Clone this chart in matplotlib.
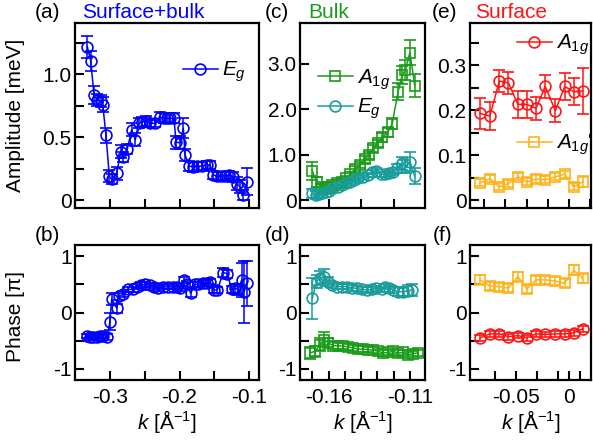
import matplotlib.pyplot as plt
import matplotlib.ticker as ticker

plt.rcParams['font.family'] = ['Liberation Sans', 'DejaVu Sans']
plt.rcParams['mathtext.fontset'] = 'custom'
plt.rcParams['mathtext.rm'] = 'Liberation Sans'
plt.rcParams['mathtext.it'] = 'Liberation Sans:italic'
plt.rcParams['axes.unicode_minus'] = False
plt.rcParams['font.size'] = 15

BLUE = '#0000ff'
GREEN = '#1a9c1a'
TEAL = '#1a9c9c'
RED = '#ff1414'
ORANGE = '#ffb31a'

# ---- (a) surface+bulk amplitude, E_g ----
a_k = [-0.3327, -0.3278, -0.3230, -0.3183, -0.3130, -0.3105, -0.3058, -0.3010, -0.2976,
       -0.2904, -0.2846, -0.2810, -0.2750, -0.2688, -0.2636, -0.2590, -0.2544, -0.2480,
       -0.2424, -0.2353, -0.2280, -0.2220, -0.2184, -0.2137, -0.2079, -0.2050, -0.1993,
       -0.1945, -0.1920, -0.1860, -0.1800, -0.1744, -0.1680, -0.1610, -0.1560, -0.1514,
       -0.1465, -0.1407, -0.1345, -0.1283, -0.1225, -0.1177, -0.1130, -0.1082, -0.1024]
a_amp = [1.22, 1.11, 0.835, 0.795, 0.79, 0.76, 0.517, 0.19, 0.164,
         0.212, 0.385, 0.34, 0.41, 0.56, 0.48, 0.61, 0.62, 0.63,
         0.61, 0.61, 0.66, 0.65, 0.65, 0.65, 0.65, 0.46, 0.456,
         0.57, 0.36, 0.27, 0.265, 0.27, 0.27, 0.28, 0.28, 0.20,
         0.19, 0.19, 0.19, 0.20, 0.185, 0.13, 0.106, 0.04, 0.146]
a_err = [0.085, 0.08, 0.07, 0.05, 0.05, 0.06, 0.06, 0.05, 0.04,
         0.05, 0.05, 0.04, 0.04, 0.05, 0.05, 0.04, 0.04, 0.04,
         0.03, 0.03, 0.04, 0.04, 0.04, 0.04, 0.04, 0.05, 0.05,
         0.08, 0.05, 0.04, 0.04, 0.03, 0.03, 0.03, 0.03, 0.03,
         0.03, 0.03, 0.03, 0.03, 0.04, 0.05, 0.05, 0.04, 0.11]

# ---- (b) surface+bulk phase, E_g ----
b_k = [-0.3335, -0.3288, -0.3240, -0.3191, -0.3144, -0.3096, -0.3039, -0.3000, -0.2976,
       -0.2904, -0.2866, -0.2810, -0.2737, -0.2674, -0.2616, -0.2559, -0.2496, -0.2424,
       -0.2367, -0.2305, -0.2233, -0.2161, -0.2089, -0.2040, -0.1993, -0.1935, -0.1888,
       -0.1839, -0.1777, -0.1730, -0.1667, -0.1609, -0.1561, -0.1504, -0.1456, -0.1370,
       -0.1312, -0.1249, -0.1201, -0.1153, -0.1105, -0.1072, -0.1024]
b_ph = [-0.42, -0.43, -0.44, -0.43, -0.42, -0.41, -0.43, -0.16, 0.24,
        0.08, 0.29, 0.33, 0.41, 0.41, 0.46, 0.49, 0.50, 0.49,
        0.46, 0.43, 0.45, 0.46, 0.45, 0.46, 0.43, 0.58, 0.50,
        0.34, 0.50, 0.50, 0.52, 0.53, 0.55, 0.40, 0.40, 0.71,
        0.69, 0.41, 0.43, 0.41, 0.58, 0.37, 0.52]
b_err = [0.04, 0.04, 0.04, 0.04, 0.04, 0.04, 0.05, 0.15, 0.10,
         0.08, 0.06, 0.05, 0.05, 0.05, 0.05, 0.05, 0.04, 0.04,
         0.04, 0.04, 0.04, 0.04, 0.04, 0.04, 0.05, 0.06, 0.06,
         0.07, 0.05, 0.05, 0.05, 0.05, 0.05, 0.06, 0.06, 0.08,
         0.07, 0.06, 0.08, 0.10, 0.30, 0.55, 0.40]

# ---- (c) bulk amplitude ----
c_k_a1g = [-0.1701, -0.1674, -0.1647, -0.1623, -0.1602, -0.1578, -0.1551, -0.1520,
           -0.1496, -0.1469, -0.1439, -0.1408, -0.1377, -0.1353, -0.1326, -0.1299,
           -0.1271, -0.1238, -0.1210, -0.1173, -0.1148, -0.1128, -0.1101, -0.1071]
c_a1g = [0.65, 0.40, 0.29, 0.26, 0.28, 0.33, 0.38, 0.40,
         0.48, 0.57, 0.68, 0.77, 0.90, 0.99, 1.14, 1.25,
         1.38, 1.49, 1.68, 2.39, 2.76, 2.87, 3.25, 2.52]
c_a1g_err = [0.20, 0.10, 0.06, 0.06, 0.06, 0.06, 0.06, 0.06,
             0.06, 0.06, 0.07, 0.07, 0.08, 0.08, 0.08, 0.08,
             0.09, 0.10, 0.12, 0.18, 0.20, 0.22, 0.28, 0.25]
c_k_eg = [-0.1701, -0.1680, -0.1660, -0.1639, -0.1618, -0.1598, -0.1572, -0.1545,
          -0.1520, -0.1496, -0.1469, -0.1443, -0.1418, -0.1388, -0.1361, -0.1332,
          -0.1306, -0.1279, -0.1255, -0.1230, -0.1204, -0.1177, -0.1152, -0.1128,
          -0.1101, -0.1071]
c_eg = [0.15, 0.11, 0.13, 0.16, 0.18, 0.21, 0.26, 0.29,
        0.33, 0.37, 0.40, 0.44, 0.48, 0.51, 0.55, 0.62,
        0.65, 0.57, 0.57, 0.59, 0.62, 0.70, 0.81, 0.74,
        0.85, 0.53]
c_eg_err = [0.10, 0.08, 0.06, 0.05, 0.05, 0.05, 0.05, 0.05,
            0.05, 0.05, 0.05, 0.05, 0.05, 0.05, 0.05, 0.05,
            0.05, 0.05, 0.05, 0.06, 0.06, 0.10, 0.15, 0.15,
            0.20, 0.18]

# ---- (d) bulk phase ----
d_k_eg = [-0.1701, -0.1674, -0.1653, -0.1627, -0.1606, -0.1582, -0.1551, -0.1520,
          -0.1490, -0.1459, -0.1428, -0.1398, -0.1367, -0.1336, -0.1306, -0.1275,
          -0.1255, -0.1230, -0.1204, -0.1173, -0.1142, -0.1112, -0.1087]
d_eg = [0.25, 0.55, 0.61, 0.64, 0.55, 0.49, 0.46, 0.46,
        0.46, 0.44, 0.43, 0.41, 0.40, 0.41, 0.43, 0.41,
        0.46, 0.43, 0.40, 0.37, 0.37, 0.39, 0.40]
d_eg_err = [0.36, 0.12, 0.12, 0.14, 0.08, 0.06, 0.05, 0.05,
            0.05, 0.05, 0.05, 0.05, 0.05, 0.05, 0.05, 0.05,
            0.05, 0.06, 0.06, 0.08, 0.08, 0.10, 0.10]
d_k_a1g = [-0.1715, -0.1684, -0.1653, -0.1627, -0.1602, -0.1572, -0.1541, -0.1510,
           -0.1480, -0.1449, -0.1418, -0.1388, -0.1357, -0.1326, -0.1296, -0.1265,
           -0.1234, -0.1204, -0.1173, -0.1142, -0.1112, -0.1081, -0.1054]
d_a1g = [-0.72, -0.69, -0.57, -0.48, -0.54, -0.59, -0.59, -0.60,
         -0.61, -0.63, -0.65, -0.65, -0.66, -0.67, -0.69, -0.72,
         -0.71, -0.69, -0.72, -0.71, -0.75, -0.73, -0.72]
d_a1g_err = [0.10, 0.10, 0.12, 0.14, 0.08, 0.06, 0.05, 0.05,
             0.05, 0.05, 0.05, 0.05, 0.05, 0.05, 0.05, 0.05,
             0.05, 0.05, 0.05, 0.05, 0.05, 0.05, 0.05]

# ---- (e), (f) surface ----
s_k = [-0.0837, -0.0745, -0.0655, -0.0570, -0.0481, -0.0396,
       -0.0311, -0.0224, -0.0129, -0.0041, 0.0043, 0.0128]
e_a1g = [0.193, 0.187, 0.265, 0.261, 0.213, 0.213,
         0.204, 0.253, 0.199, 0.253, 0.241, 0.243]
e_a1g_err = [0.035, 0.032, 0.025, 0.025, 0.030, 0.030,
             0.025, 0.025, 0.025, 0.030, 0.030, 0.052]
e_a1gp = [0.0385, 0.048, 0.0296, 0.037, 0.052, 0.041,
          0.047, 0.046, 0.052, 0.058, 0.0296, 0.041]
e_a1gp_err = [0.008, 0.008, 0.008, 0.008, 0.008, 0.008,
              0.008, 0.008, 0.008, 0.008, 0.008, 0.012]
f_a1gp = [0.58, 0.47, 0.46, 0.43, 0.64, 0.42,
          0.58, 0.58, 0.56, 0.52, 0.75, 0.61]
f_a1gp_err = [0.08, 0.07, 0.07, 0.07, 0.08, 0.07,
              0.07, 0.07, 0.07, 0.07, 0.09, 0.08]
f_a1g = [-0.45, -0.38, -0.38, -0.43, -0.41, -0.45,
         -0.38, -0.39, -0.38, -0.38, -0.36, -0.29]
f_a1g_err = [0.05, 0.05, 0.05, 0.05, 0.05, 0.05,
             0.05, 0.05, 0.05, 0.05, 0.05, 0.05]


def eb(ax, x, y, err, color, marker, ms=7.8):
    cont = ax.errorbar(x, y, yerr=err, fmt='-', marker=marker, color=color,
                       mfc='none', mec=color, ms=ms, mew=1.2, lw=1.1,
                       elinewidth=1.1, capsize=4, capthick=1.1)
    return cont[0]


def style(ax):
    for sp in ax.spines.values():
        sp.set_linewidth(1.6)
    ax.tick_params(which='both', direction='in', length=6.5, width=1.5,
                   top=False, right=False)
    ax.tick_params(axis='x', pad=5.5)
    ax.tick_params(axis='y', pad=2.5)


fig = plt.figure(figsize=(5.93, 4.43), dpi=100)
W, H = 593.0, 443.0
top_y, top_h = 1 - 208.3 / H, 185.3 / H
bot_y, bot_h = 1 - 380 / H, 135 / H
cols = [(75 / W, 184 / W), (300 / W, 125 / W), (470 / W, 121 / W)]

axa = fig.add_axes([cols[0][0], top_y, cols[0][1], top_h])
axb = fig.add_axes([cols[0][0], bot_y, cols[0][1], bot_h])
axc = fig.add_axes([cols[1][0], top_y, cols[1][1], top_h])
axd = fig.add_axes([cols[1][0], bot_y, cols[1][1], bot_h])
axe = fig.add_axes([cols[2][0], top_y, cols[2][1], top_h])
axf = fig.add_axes([cols[2][0], bot_y, cols[2][1], bot_h])
for ax in (axa, axb, axc, axd, axe, axf):
    style(ax)

# (a)
la = eb(axa, a_k, a_amp, a_err, BLUE, 'o')
axa.set_xlim(-0.3504, -0.0856)
axa.set_ylim(-0.066, 1.41)
axa.xaxis.set_major_locator(ticker.MultipleLocator(0.05))
axa.xaxis.set_major_formatter(ticker.NullFormatter())
axa.set_yticks([0, 0.5, 1.0])
axa.set_yticklabels(['0', '0.5', '1.0'])
axa.yaxis.set_minor_locator(ticker.FixedLocator([0.25, 0.75, 1.25]))
axa.set_ylabel('Amplitude [meV]')
axa.yaxis.set_label_coords(-0.27, 0.5)
axa.legend([la], ['$E_g$'], loc='center left', bbox_to_anchor=(0.585, 0.736),
           frameon=False, borderpad=0, borderaxespad=0, handlelength=1.7,
           handletextpad=0.2, fontsize=15)

# (b)
eb(axb, b_k, b_ph, b_err, BLUE, 'o')
axb.set_xlim(-0.3504, -0.0856)
axb.set_ylim(-1.2, 1.2)
axb.set_xticks([-0.3, -0.2, -0.1])
axb.set_xticklabels(['-0.3', '-0.2', '-0.1'])
axb.xaxis.set_minor_locator(ticker.FixedLocator([-0.25, -0.15]))
axb.set_yticks([-1, 0, 1])
axb.yaxis.set_minor_locator(ticker.FixedLocator([-0.5, 0.5]))
axb.set_ylabel('Phase [π]')
axb.yaxis.set_label_coords(-0.27, 0.47)
axb.set_xlabel('$k$ [Å$^{-1}$]', labelpad=1)

# (c)
lc1 = eb(axc, c_k_a1g, c_a1g, c_a1g_err, GREEN, 's')
lc2 = eb(axc, c_k_eg, c_eg, c_eg_err, TEAL, 'o')
axc.set_xlim(-0.1776, -0.1008)
axc.set_ylim(-0.18, 3.9)
axc.set_xticks([-0.16, -0.14, -0.12])
axc.xaxis.set_major_formatter(ticker.NullFormatter())
axc.set_yticks([0, 1, 2, 3])
axc.set_yticklabels(['0', '1.0', '2.0', '3.0'])
axc.legend([lc1, lc2], ['$A_{1g}$', '$E_g$'], loc='center left',
           bbox_to_anchor=(0.142, 0.616), frameon=False, borderpad=0,
           borderaxespad=0, handlelength=1.7, handletextpad=0.2,
           labelspacing=0.25, fontsize=15)

# (d)
eb(axd, d_k_eg, d_eg, d_eg_err, TEAL, 'o')
eb(axd, d_k_a1g, d_a1g, d_a1g_err, GREEN, 's')
axd.set_xlim(-0.1776, -0.1008)
axd.set_ylim(-1.2, 1.2)
axd.set_xticks([-0.16, -0.11])
axd.set_xticklabels(['-0.16', '-0.11'])
axd.xaxis.set_minor_locator(ticker.FixedLocator([-0.17, -0.15, -0.14, -0.13, -0.12]))
axd.set_yticks([-1, 0, 1])
axd.yaxis.set_minor_locator(ticker.FixedLocator([-0.5, 0.5]))
axd.set_xlabel('$k$ [Å$^{-1}$]', labelpad=1)

# (e)
le1 = eb(axe, s_k, e_a1g, e_a1g_err, RED, 'o')
le2 = eb(axe, s_k, e_a1gp, e_a1gp_err, ORANGE, 's')
axe.set_xlim(-0.0931, 0.0206)
axe.set_ylim(-0.018, 0.394)
axe.set_xticks([-0.08, -0.06, -0.04, -0.02, 0.0, 0.02])
axe.xaxis.set_major_formatter(ticker.NullFormatter())
axe.set_yticks([0, 0.1, 0.2, 0.3])
axe.set_yticklabels(['0', '0.1', '0.2', '0.3'])
axe.yaxis.set_minor_locator(ticker.FixedLocator([0.05, 0.15, 0.25, 0.35]))
leg1 = axe.legend([le1], ['$A_{1g}$'], loc='center left',
                  bbox_to_anchor=(0.386, 0.881), frameon=False, borderpad=0,
                  borderaxespad=0, handlelength=1.7, handletextpad=0.2, fontsize=15)
axe.add_artist(leg1)
axe.legend([le2], ["$A_{1g}$'"], loc='center left',
           bbox_to_anchor=(0.386, 0.342), frameon=False, borderpad=0,
           borderaxespad=0, handlelength=1.7, handletextpad=0.2, fontsize=15)

# (f)
eb(axf, s_k, f_a1gp, f_a1gp_err, ORANGE, 's')
eb(axf, s_k, f_a1g, f_a1g_err, RED, 'o')
axf.set_xlim(-0.0931, 0.0206)
axf.set_ylim(-1.2, 1.2)
axf.set_xticks([-0.05, 0.0])
axf.set_xticklabels(['-0.05', '0'])
axf.xaxis.set_minor_locator(ticker.FixedLocator([-0.07, -0.03, -0.01, 0.01]))
axf.set_yticks([-1, 0, 1])
axf.yaxis.set_minor_locator(ticker.FixedLocator([-0.5, 0.5]))
axf.set_xlabel('$k$ [Å$^{-1}$]', labelpad=1)

# panel labels and titles
fs = 15
fig.text(35 / W, 1 - 13 / H, '(a)', ha='left', va='center', fontsize=fs)
fig.text(82 / W, 1 - 13 / H, 'Surface+bulk', ha='left', va='center', fontsize=fs, color=BLUE)
fig.text(265 / W, 1 - 13 / H, '(c)', ha='left', va='center', fontsize=fs)
fig.text(308 / W, 1 - 13 / H, 'Bulk', ha='left', va='center', fontsize=fs, color=GREEN)
fig.text(432 / W, 1 - 13 / H, '(e)', ha='left', va='center', fontsize=fs)
fig.text(475 / W, 1 - 13 / H, 'Surface', ha='left', va='center', fontsize=fs, color=RED)
fig.text(35 / W, 1 - 236 / H, '(b)', ha='left', va='center', fontsize=fs)
fig.text(265 / W, 1 - 236 / H, '(d)', ha='left', va='center', fontsize=fs)
fig.text(433 / W, 1 - 236 / H, '(f)', ha='left', va='center', fontsize=fs)

fig.savefig('out.png', dpi=100)
